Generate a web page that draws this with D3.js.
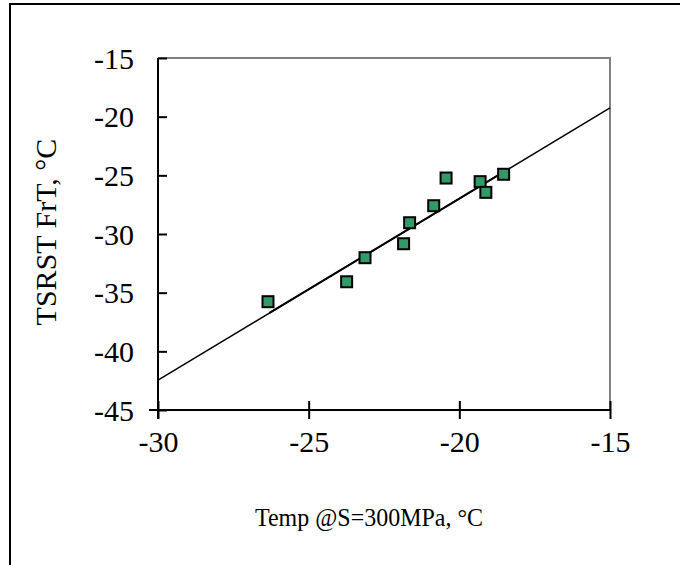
<!DOCTYPE html>
<html lang="en">
<head>
  <meta charset="UTF-8">
  <title>TSRST FrT vs Temp @S=300MPa</title>
  <script src="https://d3js.org/d3.v7.min.js"></script>
  <style>
    body { margin: 0; padding: 0; background: #fff; }
    svg, svg text { font-family: "Liberation Serif", "Times New Roman", serif; }
    svg { display: block; }
  </style>
</head>
<body>
  <div id="vis"></div>
  <script>
    // measured points: temperature at S=300MPa vs TSRST fracture temperature
    const tempS300 = [-26.35, -23.74, -23.13, -21.85, -21.65, -20.85, -20.44, -19.31, -19.12, -18.53];
    const tsrstFrT = [-35.77, -34.07, -32.02, -30.83, -29.04, -27.59, -25.23, -25.54, -26.45, -24.91];

    // trend line, extended across the axis and over the data range
    const trendX = [-30, -15];
    const trendY = [-42.45, -19.25];
    const fitX = [-26.3, -18.5];
    const fitY = [-36.73, -24.66];

    const xTicks = [-30, -25, -20, -15];
    const yTicks = [-45, -40, -35, -30, -25, -20, -15];

    const width = 680, height = 565;
    const margin = { left: 158, top: 58, right: 70, bottom: 155 };

    const svg = d3.select("#vis").append("svg")
      .attr("width", width)
      .attr("height", height);

    // outer frame (only left and top edges fall inside the picture)
    svg.append("path")
      .attr("d", "M10,565V4H680")
      .attr("fill", "none")
      .attr("stroke", "#000")
      .attr("stroke-width", 2);

    const x = d3.scaleLinear().domain([-30, -15]).range([margin.left, width - margin.right]);
    const y = d3.scaleLinear().domain([-45, -15]).range([height - margin.bottom, margin.top]);

    // grey top and right plot border
    svg.append("path")
      .attr("d", `M${x(-30)},${y(-15)}H${x(-15)}V${y(-45)}`)
      .attr("fill", "none")
      .attr("stroke", "#808080")
      .attr("stroke-width", 2);

    const minus = d => "-" + Math.abs(d);

    // axes with ticks crossing the axis line
    const xAxis = svg.append("g")
      .attr("transform", `translate(0,${y(-45)})`)
      .call(d3.axisBottom(x).tickValues(xTicks).tickSize(9).tickFormat(minus))
      .attr("font-family", null)
      .attr("font-size", 30);
    xAxis.selectAll(".tick line").attr("y1", -9).attr("stroke-width", 2);
    xAxis.select(".domain").attr("d", `M${x(-30) - 9},0H${x(-15)}`).attr("stroke-width", 2);
    xAxis.selectAll(".tick text")
      .attr("dy", "0.34em")
      .attr("y", 32);

    const yAxis = svg.append("g")
      .attr("transform", `translate(${x(-30)},0)`)
      .call(d3.axisLeft(y).tickValues(yTicks).tickSize(10).tickFormat(minus))
      .attr("font-family", null)
      .attr("font-size", 30);
    yAxis.selectAll(".tick line").attr("x2", 9).attr("stroke-width", 2);
    yAxis.select(".domain").attr("d", `M0,${y(-15)}V${y(-45) + 9}`).attr("stroke-width", 2);
    yAxis.selectAll(".tick text")
      .attr("x", -24)
      .attr("dy", "0.34em");

    svg.selectAll(".domain, .tick line").attr("stroke", "#000");
    svg.selectAll(".tick text").attr("fill", "#000");

    // trend lines
    const line = d3.line().x(d => x(d[0])).y(d => y(d[1]));
    svg.append("path")
      .datum(d3.zip(trendX, trendY))
      .attr("d", line)
      .attr("fill", "none")
      .attr("stroke", "#000")
      .attr("stroke-width", 1.5);
    svg.append("path")
      .datum(d3.zip(fitX, fitY))
      .attr("d", line)
      .attr("fill", "none")
      .attr("stroke", "#000")
      .attr("stroke-width", 2);

    // square markers
    const s = 11;
    svg.selectAll("rect.pt")
      .data(d3.zip(tempS300, tsrstFrT))
      .enter().append("rect")
      .attr("class", "pt")
      .attr("x", d => x(d[0]) - s / 2)
      .attr("y", d => y(d[1]) - s / 2)
      .attr("width", s)
      .attr("height", s)
      .attr("fill", "#339966")
      .attr("stroke", "#000")
      .attr("stroke-width", 2);

    // axis titles
    svg.append("text")
      .attr("x", 369)
      .attr("y", 526)
      .attr("text-anchor", "middle")
      .attr("font-size", 26)
      .attr("textLength", 228)
      .attr("lengthAdjust", "spacingAndGlyphs")
      .text("Temp @S=300MPa, °C");

    svg.append("text")
      .attr("transform", `translate(56,232) rotate(-90)`)
      .attr("text-anchor", "middle")
      .attr("font-size", 30)
      .text("TSRST FrT, °C");
  </script>
</body>
</html>
